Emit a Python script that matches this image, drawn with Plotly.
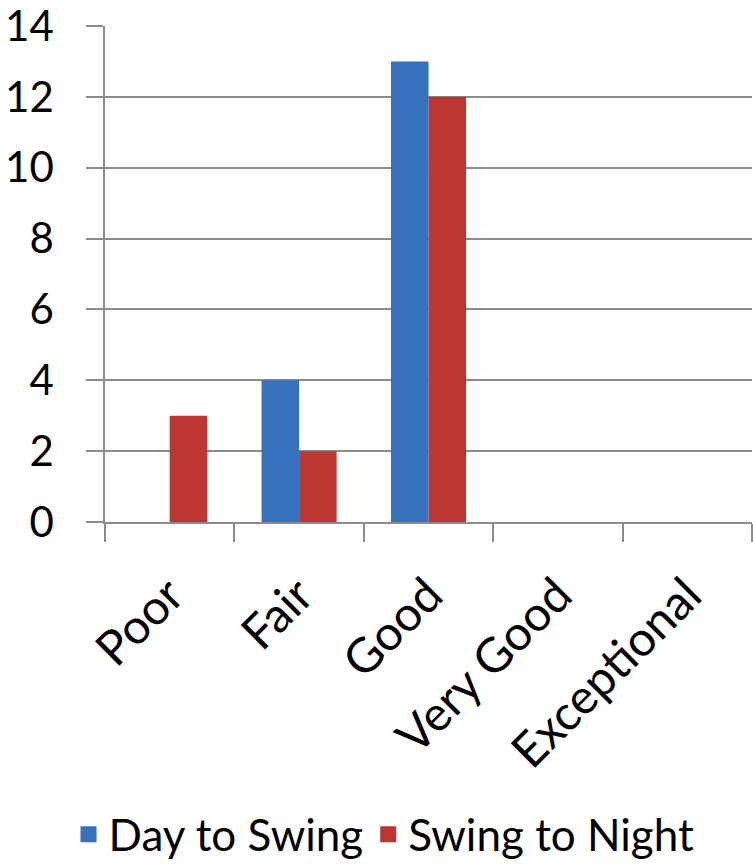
import plotly.graph_objects as go

categories = ["Poor", "Fair", "Good", "Very Good", "Exceptional"]
day_to_swing = [0, 4, 13, 0, 0]
swing_to_night = [3, 2, 12, 0, 0]
y_ticks = [0, 2, 4, 6, 8, 10, 12, 14]
series_names = ["Day to Swing", "Swing to Night"]
series_colors = ["#3571BC", "#BC3634"]

FONT = "Lato"
GRID = "#8c8c8c"

fig = go.Figure()
for name, values, color in zip(series_names, [day_to_swing, swing_to_night], series_colors):
    fig.add_trace(go.Bar(name=name, x=categories, y=values, showlegend=False,
                         marker=dict(color=color, line=dict(width=0))))
# legend entries with square swatches
for name, color in zip(series_names, series_colors):
    fig.add_trace(go.Scatter(name=name, x=[None], y=[None], mode="markers",
                             marker=dict(symbol="square", size=22, color=color),
                             showlegend=True))

fig.update_layout(
    width=753, height=864,
    margin=dict(l=105, r=1, t=26, b=342, autoexpand=False),
    paper_bgcolor="white", plot_bgcolor="white",
    barmode="group", bargap=0.42, bargroupgap=0,
    font=dict(family=FONT, size=44, color="black"),
    showlegend=True,
    legend=dict(orientation="h", xref="container", yref="container",
                x=0.51, xanchor="center", y=0.034, yanchor="middle",
                font=dict(size=44), itemwidth=30, traceorder="normal"),
)
fig.update_xaxes(
    type="category", tickangle=-45, automargin=False,
    showline=True, linecolor=GRID, linewidth=1.5,
    ticks="outside", tickson="boundaries", ticklen=18, tickcolor=GRID, tickwidth=1.5,
    showgrid=False, tickfont=dict(size=48), ticklabelstandoff=24,
)
fig.update_yaxes(
    range=[0, 14], tickvals=y_ticks, automargin=False,
    showline=True, linecolor=GRID, linewidth=1.5,
    ticks="outside", ticklen=17, tickcolor=GRID, tickwidth=1.5,
    showgrid=True, gridcolor=GRID, gridwidth=1.5,
    zeroline=False, ticklabelstandoff=24, tickfont=dict(size=42),
    ticklabeloverflow="allow",
)

fig.write_html("out.html")
